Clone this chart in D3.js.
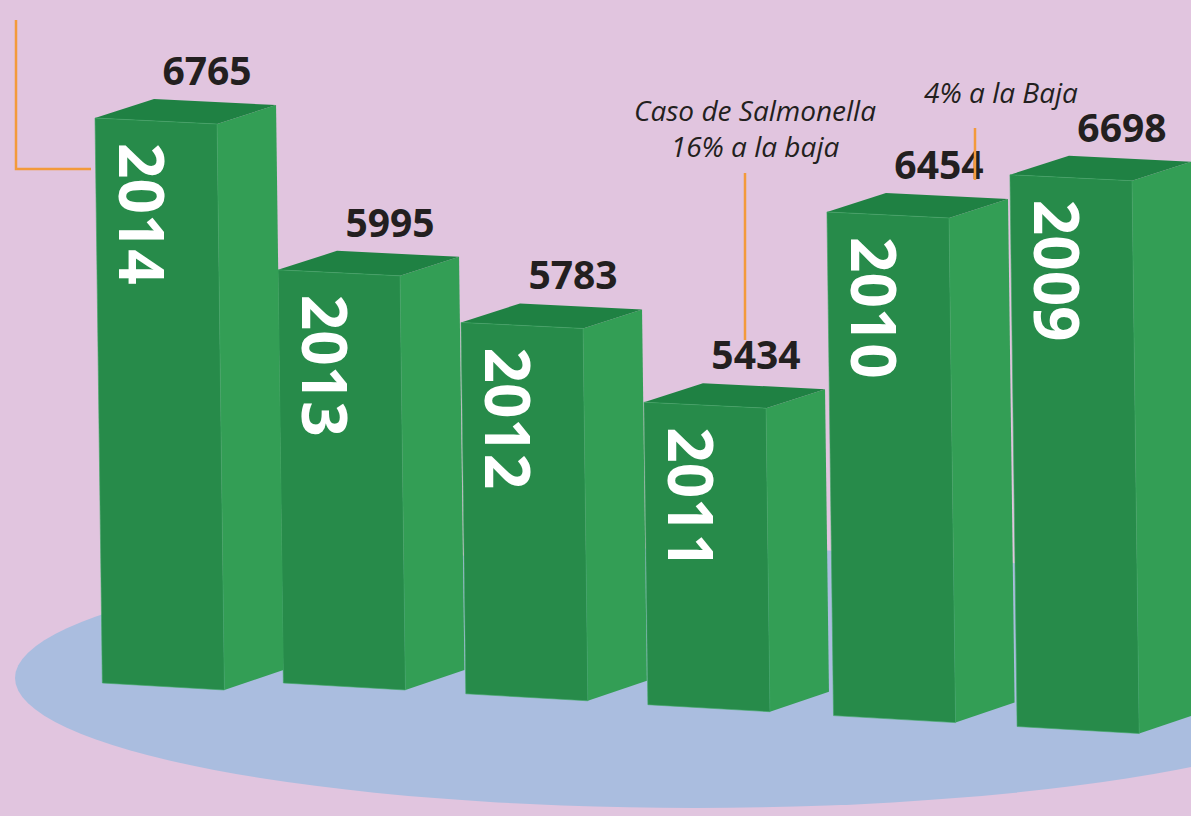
<!DOCTYPE html>
<html lang="es">
<head>
<meta charset="utf-8">
<title>Casos de Salmonella</title>
<script src="https://d3js.org/d3.v7.min.js"></script>
<style>
  body { margin: 0; background: #e1c5df; }
  svg { display: block; }
</style>
</head>
<body>
<script>

// data
var years  = ["2014", "2013", "2012", "2011", "2010", "2009"];
var values = [6765, 5995, 5783, 5434, 6454, 6698];
var noteSalmonella = ["Caso de Salmonella", "16% a la baja"];
var noteBaja = "4% a la Baja";

var w = 1191, h = 816;

var svg = d3.select("body")
  .append("svg")
    .attr("width", w)
    .attr("height", h);

svg.append("rect")
  .attr("width", w)
  .attr("height", h)
  .attr("fill", "#e1c5df");

// floor ellipse
svg.append("ellipse")
  .attr("cx", 695)
  .attr("cy", 678)
  .attr("rx", 680)
  .attr("ry", 130)
  .attr("fill", "#aabddf");

var xScale = d3.scaleBand()
    .domain(years)
    .range([95, 1132])
    .paddingInner(0.333)
    .paddingOuter(0);

// bar height (not zero based, the picture is cut)
var hScale = d3.scaleLinear()
    .domain([3900, 6765])
    .range([0, 565]);

// the floor drops a little to the right
var floorY = d3.scaleLinear()
    .domain([280, 1018])
    .range([683, 727])
    .clamp(true);

var bw = xScale.bandwidth();
var dx = 59, dy = -19;   // depth of the boxes
var tilt = 6;            // front top edge slope

var bars = years.map(function(y, i) {
  var x0 = xScale(y);
  var yb = floorY(x0);
  var hh = hScale(values[i]);
  var yt = yb - hh;
  var lean = hh * 0.013;
  return {
    year: y, value: values[i], x0: x0, yt: yt, yb: yb, lean: lean,
    front: [[x0, yt], [x0 + bw, yt + tilt], [x0 + bw + lean, yb + tilt + 1], [x0 + lean, yb]],
    top: [[x0, yt], [x0 + dx, yt + dy], [x0 + bw + dx, yt + tilt + dy], [x0 + bw, yt + tilt]],
    side: [[x0 + bw, yt + tilt], [x0 + bw + dx, yt + tilt + dy],
           [x0 + bw + dx + lean, yb + tilt + dy], [x0 + bw + lean, yb + tilt + 1]]
  };
});

var line = d3.line();

// right to left, so the left boxes sit on top
var g = svg.selectAll("g.bar")
  .data(bars.slice().reverse())
  .enter().append("g")
    .attr("class", "bar");

g.append("path").attr("d", d => line(d.side) + "Z").attr("fill", "#339e55");
g.append("path").attr("d", d => line(d.top) + "Z").attr("fill", "#1f8143");
g.append("path").attr("d", d => line(d.front) + "Z").attr("fill", "#278b4a")
  .attr("stroke", "#3fa864").attr("stroke-width", 0.6);

g.append("text")
  .attr("transform", d => "translate(" + (d.x0 + 24) + "," + (d.yt + 25) + ") rotate(90)")
  .attr("font-family", "'Open Sans', sans-serif")
  .attr("font-weight", 700)
  .attr("font-size", 62)
  .attr("fill", "#ffffff")
  .text(d => d.year);

g.append("text")
  .attr("x", d => d.x0 + 112)
  .attr("y", d => d.yt - 33)
  .attr("text-anchor", "middle")
  .attr("font-family", "'Open Sans', sans-serif")
  .attr("font-weight", 700)
  .attr("font-size", 39)
  .attr("fill", "#231f20")
  .text(d => d.value);

// annotations
var orange = "#f39a3b";
svg.append("path")
  .attr("d", "M16,20V169H91")
  .attr("fill", "none")
  .attr("stroke", orange)
  .attr("stroke-width", 2.5);

svg.append("line")
  .attr("x1", 745).attr("x2", 745)
  .attr("y1", 173).attr("y2", 340)
  .attr("stroke", orange).attr("stroke-width", 2.5);

svg.append("line")
  .attr("x1", 975).attr("x2", 975)
  .attr("y1", 128).attr("y2", 180)
  .attr("stroke", orange).attr("stroke-width", 2.5);

svg.selectAll("text.note")
  .data(noteSalmonella)
  .enter().append("text")
    .attr("class", "note")
    .attr("x", 755)
    .attr("y", (d, i) => 121 + i * 36)
    .attr("text-anchor", "middle")
    .attr("font-family", "'Open Sans', sans-serif")
    .attr("font-style", "italic")
    .attr("font-size", 28)
    .attr("fill", "#231f20")
    .text(d => d);

svg.append("text")
  .attr("x", 1001)
  .attr("y", 103)
  .attr("text-anchor", "middle")
  .attr("font-family", "'Open Sans', sans-serif")
  .attr("font-style", "italic")
  .attr("font-size", 28)
  .attr("fill", "#231f20")
  .text(noteBaja);

</script>
</body>
</html>
